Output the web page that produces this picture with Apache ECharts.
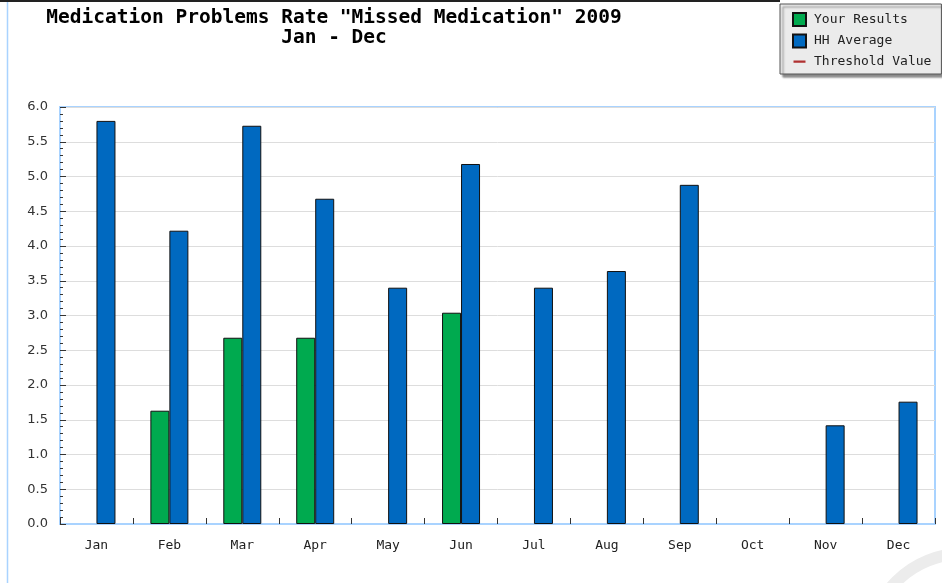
<!DOCTYPE html>
<html>
<head>
<meta charset="utf-8">
<title>Missed Medication 2009</title>
<script src="https://cdn.jsdelivr.net/npm/echarts@6/dist/echarts.min.js"></script>
<style>
  html, body { margin: 0; padding: 0; background: #ffffff; }
  #chart { width: 942px; height: 583px; }
</style>
</head>
<body>
<div id="chart"></div>
<script>
// Monthly rates for 2009
const months = ['Jan', 'Feb', 'Mar', 'Apr', 'May', 'Jun', 'Jul', 'Aug', 'Sep', 'Oct', 'Nov', 'Dec'];
const yourResults = [null, 1.63, 2.68, 2.68, null, 3.04, null, null, null, null, null, null];
const hhAverage = [5.80, 4.22, 5.73, 4.68, 3.40, 5.18, 3.40, 3.64, 4.88, null, 1.42, 1.76];
const thresholdValue = [];

const chart = echarts.init(document.getElementById('chart'));

const mono = 'DejaVu Sans Mono';
// short horizontal dash; the two specks only widen the icon's bounding box
const dashIcon = 'path://M0,5.5h12v2.2h-12zM0,0h0.01v0.01h-0.01zM0,13h0.01v0.01h-0.01z';

chart.setOption({
  animation: false,
  backgroundColor: '#ffffff',
  title: {
    text: 'Medication Problems Rate "Missed Medication" 2009\nJan - Dec',
    left: 329,
    top: 3,
    textAlign: 'center',
    textStyle: {
      fontFamily: mono,
      fontSize: 19.5,
      fontWeight: 'bold',
      color: '#000000',
      lineHeight: 20
    }
  },
  legend: {
    orient: 'vertical',
    left: 780,
    top: 4,
    width: 160,
    padding: [8, 10, 6, 12],
    itemGap: 6.5,
    itemWidth: 13,
    itemHeight: 13,
    backgroundColor: '#ebebeb',
    borderColor: '#555555',
    borderWidth: 1,
    borderRadius: 0,
    shadowColor: 'rgba(0,0,0,0.45)',
    shadowBlur: 2,
    shadowOffsetX: 3,
    shadowOffsetY: 3,
    textStyle: { fontFamily: mono, fontSize: 13, color: '#222222', padding: [0, 0, 0, 3] },
    data: [
      { name: 'Your Results', icon: 'rect' },
      { name: 'HH Average', icon: 'rect' },
      { name: 'Threshold Value', icon: dashIcon, itemStyle: { color: '#b03030', borderWidth: 0 } }
    ]
  },
  grid: {
    left: 60,
    right: 7,
    top: 107,
    bottom: 59,
    show: true,
    borderColor: '#a9d3ff',
    borderWidth: 2,
    backgroundColor: 'transparent'
  },
  xAxis: {
    type: 'category',
    data: months,
    axisLine: { lineStyle: { color: '#a9d3ff', width: 2 } },
    axisTick: { show: true, inside: true, length: 6, lineStyle: { color: '#333333' } },
    axisLabel: { fontFamily: mono, fontSize: 13, color: '#222222', margin: 15 },
    splitLine: { show: false }
  },
  yAxis: {
    type: 'value',
    min: 0,
    max: 6,
    interval: 0.5,
    axisLine: { show: true, lineStyle: { color: '#a9d3ff', width: 2 } },
    axisTick: { show: true, inside: true, length: 6, lineStyle: { color: '#333333' } },
    minorTick: { show: true, splitNumber: 5, length: 3, lineStyle: { color: '#333333' } },
    axisLabel: {
      fontFamily: 'DejaVu Sans',
      fontSize: 13,
      color: '#333333',
      margin: 12,
      formatter: v => v.toFixed(1)
    },
    splitLine: { show: true, lineStyle: { color: '#dddddd', width: 1 } }
  },
  series: [
    {
      name: 'Your Results',
      type: 'bar',
      data: yourResults,
      barWidth: 19,
      barGap: 0,
      itemStyle: { color: '#00aa4f', borderColor: '#111111', borderWidth: 1 }
    },
    {
      name: 'HH Average',
      type: 'bar',
      data: hhAverage,
      barWidth: 19,
      barGap: 0,
      itemStyle: { color: '#0069c0', borderColor: '#111111', borderWidth: 1 }
    },
    {
      name: 'Threshold Value',
      type: 'line',
      data: thresholdValue,
      symbol: 'none',
      itemStyle: { color: '#b03030' },
      lineStyle: { color: '#b03030', width: 2 }
    }
  ],
  graphic: [
    // page frame: dark top rule and pale blue left rule
    { type: 'line', shape: { x1: 0, y1: 1, x2: 780, y2: 1 }, style: { stroke: '#222222', lineWidth: 2 }, silent: true },
    { type: 'line', shape: { x1: 7.5, y1: 2, x2: 7.5, y2: 583 }, style: { stroke: '#a9d3ff', lineWidth: 1.5 }, silent: true },
    // faint ring in the lower right corner
    {
      type: 'circle',
      shape: { cx: 962, cy: 646, r: 92 },
      style: { fill: 'none', stroke: '#ececec', lineWidth: 12 },
      silent: true,
      z: -1
    }
  ]
});
</script>
</body>
</html>
